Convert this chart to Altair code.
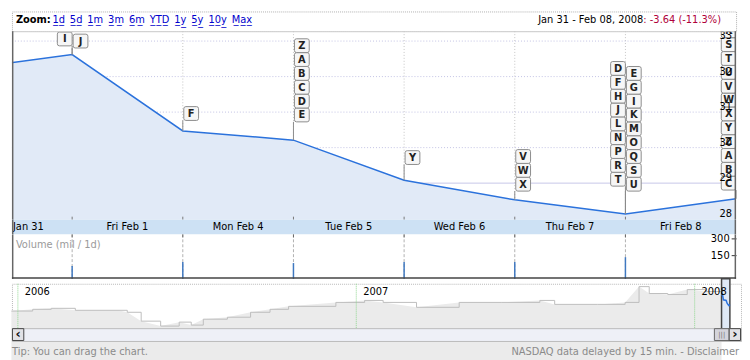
import altair as alt
import pandas as pd

# ---------------- data ----------------
day_labels = ["Jan 31", "Fri Feb 1", "Mon Feb 4", "Tue Feb 5", "Wed Feb 6", "Thu Feb 7", "Fri Feb 8"]
close_days = [-1, 0, 1, 2, 3, 4, 5, 6]          # trading-day index, 0 = Jan 31 close
closes = [32.20, 32.62, 30.47, 30.21, 29.08, 28.53, 28.13, 28.56]
volume_days = [0, 1, 2, 3, 4, 5]
volumes = [56, 91, 82, 91, 91, 135]             # millions
price_ticks = [28, 29, 30, 31, 32, 33]
volume_ticks = [150, 300]

flag_days = [0, 0, 1, 2, 3, 4, 5, 5, 6]
flag_sides = ["left", "right", "right", "right", "right", "right", "left", "right", "left"]
flag_letters = ["I", "J", "F", "ZABCDE", "Y", "VWX", "DFHJLNPRT", "EGIKMOQSU", "RSTUVWXYZABC"]
flag_bases = [33.06, 33.00, 30.96, 30.92, 29.72, 28.97, 29.11, 28.97, 29.00]

header_links = ["1d", "5d", "1m", "3m", "6m", "YTD", "1y", "5y", "10y", "Max"]
range_label = "Jan 31 - Feb 08, 2008"
change_label = ": -3.64 (-11.3%)"

overview_dates = ["2005-12-25", "2006-01-17", "2006-02-06", "2006-03-04", "2006-04-19", "2006-04-29",
                  "2006-05-14", "2006-06-04", "2006-06-24", "2006-07-07", "2006-07-20", "2006-08-15",
                  "2006-09-09", "2006-09-30", "2006-10-20", "2006-12-10", "2007-01-10", "2007-01-30",
                  "2007-03-07", "2007-04-22", "2007-06-07", "2007-07-18", "2007-08-03", "2007-09-18",
                  "2007-10-18", "2007-11-02", "2007-11-13", "2007-12-03", "2007-12-24", "2008-01-13",
                  "2008-01-30"]
overview_prices = [25.9, 26.6, 27.0, 26.2, 26.2, 25.4, 21.8, 19.8, 21.4, 20.2, 22.6, 23.4,
                   25.4, 26.6, 27.8, 29.4, 30.2, 29.4, 27.4, 29.4, 29.4, 30.2, 28.6, 28.6,
                   29.4, 35.8, 33.0, 32.6, 34.6, 33.8, 32.2]
week_dates = ["2008-01-30", "2008-01-31", "2008-02-01", "2008-02-04", "2008-02-05",
              "2008-02-06", "2008-02-07", "2008-02-08"]
year_starts = ["2006-01-01", "2007-01-01", "2008-01-01"]
year_labels = ["2006", "2007", "2008"]

tip_text = "Tip: You can drag the chart."
source_text = "NASDAQ data delayed by 15 min. - Disclaimer"

# ---------------- helpers ----------------
FONT = "DejaVu Sans"
W = 734
W2 = 739
PRICE_H = 191
FLAG_STEP = 0.39
BOX = ("M -0.77,-1 L 0.77,-1 Q 1.07,-1 1.07,-0.7 L 1.07,0.7 Q 1.07,1 0.77,1 "
       "L -0.77,1 Q -1.07,1 -1.07,0.7 L -1.07,-0.7 Q -1.07,-1 -0.77,-1 Z")
BLUE = "#2b72dc"


def ul(s):
    return "".join(c + "\u0332" for c in s)


def days_since(dates):
    return list((pd.to_datetime(pd.Series(dates)) - pd.Timestamp("2006-01-01")).dt.days)


one = pd.DataFrame({"k": [0]})
xs = alt.Scale(domain=[-0.544, 6], nice=False, zero=False)
ys = alt.Scale(domain=[27.972, 33.278], nice=False, zero=False)

# ---------------- header ----------------
hdr = alt.layer(
    alt.Chart(one).mark_text(text="Zoom:", font=FONT, fontSize=10, fontWeight="bold", align="left",
                             baseline="middle", color="#000").encode(x=alt.value(4), y=alt.value(9)),
    alt.Chart(one).mark_text(text="\u2002".join(ul(s) for s in header_links), font=FONT, fontSize=10,
                             align="left", baseline="middle", color="#0000cc").encode(x=alt.value(41), y=alt.value(9)),
    alt.Chart(one).mark_text(text=range_label, font=FONT, fontSize=10, align="right",
                             baseline="middle", color="#000").encode(x=alt.value(640), y=alt.value(9)),
    alt.Chart(one).mark_text(text=change_label, font=FONT, fontSize=10, align="left",
                             baseline="middle", color="#b0003a").encode(x=alt.value(640), y=alt.value(9)),
).properties(width=W, height=20, view=alt.ViewBackground(stroke="#b0b0b0", strokeDash=[1, 1], fill="white"))

# ---------------- price panel ----------------
price_df = pd.DataFrame({"day": close_days, "close": closes})
grid_days = pd.DataFrame({"day": volume_days})
hgrid_dotted = pd.DataFrame({"p": price_ticks[2:]})
hgrid_solid = pd.DataFrame({"p": price_ticks[1:2]})
label_df = pd.DataFrame({"p": price_ticks, "lab": [str(t) for t in price_ticks]})

close_map = dict(zip(close_days, closes))
pole_df = pd.DataFrame({"day": flag_days,
                        "close": [close_map[d] for d in flag_days],
                        "bottom": [b - FLAG_STEP / 2 for b in flag_bases]})
rows = []
for d, side, letters, base in zip(flag_days, flag_sides, flag_letters, flag_bases):
    for k, ch in enumerate(reversed(letters)):
        rows.append({"day": d, "side": side, "letter": ch, "level": base + k * FLAG_STEP})
flags_df = pd.DataFrame(rows)

X = alt.X("day:Q", scale=xs, axis=None)

vgrid = alt.Chart(grid_days).mark_rule(color="#c4c4c4", strokeDash=[1, 2]).encode(
    x=X, y=alt.value(0), y2=alt.value(PRICE_H))
hg1 = alt.Chart(hgrid_dotted).mark_rule(color="#c2c2e4", strokeDash=[1, 2]).encode(
    y=alt.Y("p:Q", scale=ys, axis=None), x=alt.value(0), x2=alt.value(W))
hg2 = alt.Chart(hgrid_solid).mark_rule(color="#c6c6e8").encode(
    y=alt.Y("p:Q", scale=ys, axis=None), x=alt.value(0), x2=alt.value(W))
area = alt.Chart(price_df).mark_area(color="#e1eaf7", clip=True).encode(
    x=X, y=alt.Y("close:Q", scale=ys, axis=None), y2=alt.value(PRICE_H))
line = alt.Chart(price_df).mark_line(color=BLUE, strokeWidth=1.5, clip=True).encode(
    x=X, y=alt.Y("close:Q", scale=ys, axis=None))
poles = alt.Chart(pole_df).mark_rule(color="#8a8a8a").encode(
    x=X, y=alt.Y("close:Q", scale=ys, axis=None), y2="bottom:Q")
bot_ticks = alt.Chart(grid_days).mark_rule(color="#777").encode(
    x=X, y=alt.value(PRICE_H - 3), y2=alt.value(PRICE_H))


def flag_layers(side, off):
    base = alt.Chart(flags_df).transform_filter(alt.datum.side == side)
    box = base.mark_point(shape=BOX, size=196, filled=True, fill="#f6f6f6", stroke="#8c8c8c",
                          strokeWidth=1, opacity=1, xOffset=off, clip=True).encode(
        x=X, y=alt.Y("level:Q", scale=ys, axis=None))
    txt = base.mark_text(font=FONT, fontSize=10, fontWeight="bold", color="#222", dx=off, dy=0.5,
                         align="center", baseline="middle", clip=True).encode(
        x=X, y=alt.Y("level:Q", scale=ys, axis=None), text="letter:N")
    return [box, txt]


labels = alt.Chart(label_df).mark_text(font=FONT, fontSize=10, color="#000", align="right",
                                       baseline="alphabetic", dy=-2).encode(
    y=alt.Y("p:Q", scale=ys, axis=None), x=alt.value(W - 4), text="lab:N")
frame_p = [
    alt.Chart(one).mark_rule(color="#c8c8c8").encode(x=alt.value(0), x2=alt.value(W), y=alt.value(0.5)),
    alt.Chart(one).mark_rule(color="#666", strokeWidth=1.5).encode(x=alt.value(0.75), y=alt.value(0), y2=alt.value(PRICE_H)),
    alt.Chart(one).mark_rule(color="#666", strokeWidth=1.5).encode(x=alt.value(W - 0.75), y=alt.value(0), y2=alt.value(PRICE_H)),
]

price_panel = alt.layer(
    vgrid, hg1, hg2, area, line, bot_ticks, poles,
    *flag_layers("left", -7.5), *flag_layers("right", 8.5),
    labels, *frame_p
).properties(width=W, height=PRICE_H, view=alt.ViewBackground(stroke=None, fill="white"))

# ---------------- date band ----------------
band_df = pd.DataFrame({"mid": [d - 0.5 for d in close_days[2:]], "lab": day_labels[1:]})
band = alt.layer(
    alt.Chart(band_df).mark_text(font=FONT, fontSize=10, color="#000", baseline="middle").encode(
        x=alt.X("mid:Q", scale=xs, axis=None), y=alt.value(7.5), text="lab:N"),
    alt.Chart(one).mark_text(text=day_labels[0], font=FONT, fontSize=10, color="#000", align="left",
                             baseline="middle").encode(x=alt.value(1), y=alt.value(7.5)),
    alt.Chart(one).mark_rule(color="#666", strokeWidth=1.5).encode(x=alt.value(0.75), y=alt.value(0), y2=alt.value(15)),
    alt.Chart(one).mark_rule(color="#666", strokeWidth=1.5).encode(x=alt.value(W - 0.75), y=alt.value(0), y2=alt.value(15)),
).properties(width=W, height=15, view=alt.ViewBackground(stroke=None, fill="#cde1f4"))

# ---------------- volume ----------------
vs = alt.Scale(domain=[-59, 338], nice=False, zero=False)
vol_df = pd.DataFrame({"day": volume_days, "vol": volumes})
volume = alt.layer(
    alt.Chart(grid_days).mark_rule(color="#b0b0b0", strokeDash=[3, 2]).encode(
        x=X, y=alt.value(0), y2=alt.value(45)),
    alt.Chart(grid_days).mark_rule(color="#666").encode(x=X, y=alt.value(0), y2=alt.value(3)),
    alt.Chart(vol_df).mark_rule(color="#3f78c0", strokeWidth=1.5).encode(
        x=X,
        y=alt.Y("vol:Q", scale=vs,
                axis=alt.Axis(orient="left", offset=-W, values=volume_ticks, tickSize=5, labelPadding=2,
                              domain=False, grid=False, labelFont=FONT, labelFontSize=10,
                              labelColor="#000", tickColor="#333", title=None)),
        y2=alt.value(45)),
    alt.Chart(one).mark_text(text="Volume (mil / 1d)", font=FONT, fontSize=10, color="#9a9a9a",
                             align="left", baseline="middle").encode(x=alt.value(4), y=alt.value(11)),
    alt.Chart(one).mark_rule(color="#666", strokeWidth=1.5).encode(x=alt.value(0.75), y=alt.value(0), y2=alt.value(45)),
    alt.Chart(one).mark_rule(color="#666", strokeWidth=1.5).encode(x=alt.value(W - 0.75), y=alt.value(0), y2=alt.value(45)),
    alt.Chart(one).mark_rule(color="#444", strokeWidth=1.5).encode(x=alt.value(0), x2=alt.value(W), y=alt.value(44.25)),
).properties(width=W, height=45, view=alt.ViewBackground(stroke=None, fill="white"))

spacer = alt.Chart(one).mark_point(opacity=0).encode(x=alt.value(0), y=alt.value(0)).properties(
    width=W, height=5, view=alt.ViewBackground(stroke=None))

# ---------------- overview ----------------
ts = alt.Scale(domain=[-6.4, 780], nice=False, zero=False)
os_ = alt.Scale(domain=[18.96, 36.96], nice=False, zero=False)
ov_df = pd.DataFrame({"t": days_since(overview_dates), "p": overview_prices})
wk_df = pd.DataFrame({"t": days_since(week_dates), "p": closes})
yr_df = pd.DataFrame({"t": days_since(year_starts), "lab": year_labels})
win_df = pd.DataFrame({"t0": days_since(week_dates[:1]), "t1": days_since(week_dates[-1:])})
TX = alt.X("t:Q", scale=ts, axis=None)
OY = alt.Y("p:Q", scale=os_, axis=None)

overview = alt.layer(
    alt.Chart(ov_df).mark_area(color="#ebebeb").encode(x=TX, y=OY, y2=alt.value(45)),
    alt.Chart(ov_df).mark_line(color="#bdbdbd", strokeWidth=1, interpolate="step-after").encode(x=TX, y=OY),
    alt.Chart(yr_df).mark_rule(color="#8fd68f", strokeDash=[1, 1]).encode(x=TX, y=alt.value(0), y2=alt.value(45)),
    alt.Chart(win_df).mark_rect(fill="#dfe9f6", stroke="#444", strokeWidth=1.5).encode(
        x=alt.X("t0:Q", scale=ts, axis=None), x2="t1:Q", y=alt.value(-5), y2=alt.value(46)),
    alt.Chart(wk_df).mark_line(color=BLUE, strokeWidth=1.5).encode(x=TX, y=OY),
    alt.Chart(yr_df).mark_text(font=FONT, fontSize=10, color="#000", align="left", baseline="middle",
                               dx=7).encode(x=TX, y=alt.value(8), text="lab:N"),
).properties(width=W2, height=45, view=alt.ViewBackground(stroke="#b8b8b8", strokeDash=[1, 1], fill="white"))

# ---------------- scrollbar ----------------
def btn(x0, x1, glyph):
    return [
        alt.Chart(one).mark_rect(fill="#e2e2e6", stroke="#444").encode(
            x=alt.value(x0), x2=alt.value(x1), y=alt.value(0.5), y2=alt.value(12.5)),
        alt.Chart(one).mark_text(text=glyph, font=FONT, fontSize=13, fontWeight="bold", color="#111",
                                 align="center", baseline="middle").encode(
            x=alt.value((x0 + x1) / 2), y=alt.value(6)),
    ]


scroll = alt.layer(
    *btn(0.5, 12, "\u2039"),
    alt.Chart(one).mark_rect(fill="#d4d4dc", stroke="#666").encode(
        x=alt.value(712), x2=alt.value(727), y=alt.value(0.5), y2=alt.value(12.5)),
    alt.Chart(one).mark_text(text="|||", font=FONT, fontSize=7, color="#777", align="center",
                             baseline="middle").encode(x=alt.value(719.5), y=alt.value(6.5)),
    *btn(727, 738.5, "\u203a"),
).properties(width=W2, height=13, view=alt.ViewBackground(stroke="#bbb", fill="#eef0f7"))

# ---------------- footer ----------------
footer = alt.layer(
    alt.Chart(one).mark_text(text=tip_text, font=FONT, fontSize=10, color="#8a8a8a", align="left",
                             baseline="middle").encode(x=alt.value(0), y=alt.value(11)),
    alt.Chart(one).mark_text(text=source_text, font=FONT, fontSize=10, color="#8a8a8a", align="right",
                             baseline="middle").encode(x=alt.value(W2 - 2), y=alt.value(11)),
).properties(width=W2, height=18, view=alt.ViewBackground(stroke=None))

chart = alt.vconcat(
    hdr, price_panel, band, volume, spacer, overview, scroll, footer,
    spacing=0, bounds="flush"
).resolve_scale(x="independent", y="independent").properties(
    padding=0, background="white"
).configure_view(stroke=None)

chart.save("out.html", embed_options={"renderer": "svg", "actions": False})
